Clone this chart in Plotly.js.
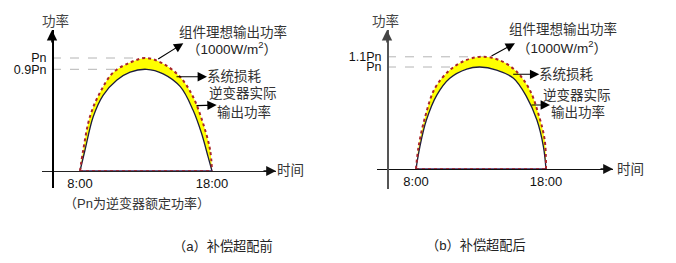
<!DOCTYPE html>
<html>
<head>
<meta charset="utf-8">
<script src="https://cdn.plot.ly/plotly-3.0.1.min.js"></script>
<style>html,body{margin:0;padding:0;background:#fff;}#chart{width:676px;height:263px;}</style>
</head>
<body>
<div id="chart"></div>
<script>
// ---- data ----
// Panel (a): before over-provisioning  (y in units of Pn, x in hours)
const hoursIdealA  = [8, 8.25, 8.75, 9.5, 10.5, 11.8, 13, 14.3, 15.6, 16.55, 17.3, 17.85, 18];
const idealA       = [0, 0.19, 0.48, 0.69, 0.87, 0.96, 1.0, 0.95, 0.83, 0.66, 0.43, 0.19, 0];
const hoursActualA = [8, 8.38, 9.0, 9.75, 10.8, 11.8, 13.05, 14.3, 15.6, 16.56, 17.2, 17.7, 18];
const actualA      = [0, 0.186, 0.48, 0.67, 0.805, 0.875, 0.9, 0.86, 0.746, 0.54, 0.336, 0.127, 0];
// Panel (b): after over-provisioning
const hoursIdealB  = [8, 8.2, 8.7, 9.45, 10.6, 11.9, 13.2, 14.45, 15.75, 16.75, 17.4, 17.9, 18];
const idealB       = [0, 0.22, 0.51, 0.79, 0.97, 1.07, 1.1, 1.065, 0.954, 0.775, 0.546, 0.284, 0];
const hoursActualB = [8, 8.3, 8.8, 9.6, 10.6, 11.9, 12.9, 14.2, 15.5, 16.5, 17.3, 17.8, 18];
const actualB      = [0, 0.22, 0.48, 0.725, 0.89, 0.98, 1.0, 0.97, 0.89, 0.71, 0.48, 0.22, 0];

const xTickVals   = [8, 18];
const xTickText   = ['8:00', '18:00'];
const yTickValsA  = [1, 0.9];
const yTickTextA  = ['Pn', '0.9Pn'];
const yTickValsB  = [1.1, 1];
const yTickTextB  = ['1.1Pn', 'Pn'];

// ---- layout helpers ----
const W = 676, H = 263;
const px = v => v / W;           // pixel -> paper x
const py = v => 1 - v / H;       // pixel -> paper y

const LAT = 'Liberation Sans, Arial, Noto Sans CJK SC, sans-serif';
const CJK = 'Liberation Sans, Noto Sans CJK SC, sans-serif';

const panels = [
  {xa:'x', ya:'y', hi:hoursIdealA, vi:idealA, ha:hoursActualA, va:actualA,
   xdom:[42,276], xr:[5.1212,22.848], xpos:171,
   ydom:[188,30], yr:[-0.15044,1.24779], ypos:52,
   yt:yTickValsA, ytt:yTickTextA, ycol:'#000', xcol:'#222'},
  {xa:'x2', ya:'y2', hi:hoursIdealB, vi:idealB, ha:hoursActualB, va:actualB,
   xdom:[377,613], xr:[5.0,23.1538], xpos:169,
   ydom:[189,30], yr:[-0.19608,1.36275], ypos:387,
   yt:yTickValsB, ytt:yTickTextB, ycol:'#555', xcol:'#111'}
];

const data = [];
const shapes = [];
const layout = {
  width: W, height: H,
  margin: {l:0, r:0, t:0, b:0},
  paper_bgcolor: '#fff', plot_bgcolor: 'rgba(0,0,0,0)',
  showlegend: false,
  annotations: [],
  shapes: shapes
};

panels.forEach((p, i) => {
  const sx = i === 0 ? '' : '2';
  // actual inverter output (inner curve)
  data.push({x:p.ha, y:p.va, xaxis:p.xa, yaxis:p.ya, mode:'lines', type:'scatter',
    line:{color:'#1c1c3c', width:1.3, shape:'spline', smoothing:1}, hoverinfo:'skip'});
  // ideal module output (outer curve), filled down to inner -> system losses
  data.push({x:p.hi, y:p.vi, xaxis:p.xa, yaxis:p.ya, mode:'lines', type:'scatter',
    fill:'tonexty', fillcolor:'#ffff00',
    line:{color:'#a8242a', width:2, dash:'dot', shape:'spline', smoothing:1}, hoverinfo:'skip'});
  // baseline segment between sunrise and sunset
  const h0 = p.hi[0], h1 = p.hi[p.hi.length-1];
  data.push({x:[h0, h1], y:[p.va[0], p.va[p.va.length-1]], xaxis:p.xa, yaxis:p.ya, mode:'lines',
    line:{color:'#3a2a6a', width:1.3}, hoverinfo:'skip'});
  data.push({x:[h0, h1], y:[p.vi[0], p.vi[p.vi.length-1]], xaxis:p.xa, yaxis:p.ya, mode:'lines',
    line:{color:'#a8242a', width:1.6, dash:'dot'}, hoverinfo:'skip'});

  layout['xaxis'+sx] = {
    domain:[px(p.xdom[0]), px(p.xdom[1])], range:p.xr, anchor:'free', position:py(p.xpos),
    showline:true, linecolor:p.xcol, linewidth:1.3, showgrid:false, zeroline:false,
    ticks:'', tickvals:xTickVals, ticktext:xTickText, ticklabelstandoff:0,
    tickfont:{family:LAT, size:13, color:'#111'}, fixedrange:true
  };
  layout['yaxis'+sx] = {
    domain:[py(p.ydom[0]), py(p.ydom[1])], range:p.yr, anchor:'free', position:px(p.ypos),
    showline:true, linecolor:p.ycol, linewidth:1.6, showgrid:false, zeroline:false,
    ticks:'', tickvals:p.yt, ticktext:p.ytt, ticklabelstandoff:3,
    tickfont:{family:LAT, size:12.5, color:'#111'}, fixedrange:true
  };

  // dashed reference levels from the y axis to the peak time
  const axisHour = p.xr[0] + (p.ypos - p.xdom[0]) / (p.xdom[1]-p.xdom[0]) * (p.xr[1]-p.xr[0]);
  const peakIdx = p.vi.indexOf(Math.max(...p.vi));
  const peakIdxA = p.va.indexOf(Math.max(...p.va));
  shapes.push({type:'line', xref:p.xa, yref:p.ya, layer:'below',
    x0:axisHour, x1:p.hi[peakIdx], y0:p.yt[0], y1:p.yt[0],
    line:{color:'#b4b4b4', width:1, dash:'dash'}});
  shapes.push({type:'line', xref:p.xa, yref:p.ya, layer:'below',
    x0:axisHour, x1:p.ha[peakIdxA], y0:p.yt[1], y1:p.yt[1],
    line:{color:'#b4b4b4', width:1, dash:'dash'}});
});

const ann = layout.annotations;
function arrow(hx, hy, tx, ty, w, s, col) {
  ann.push({xref:'paper', yref:'paper', x:px(hx), y:py(hy), ax:tx-hx, ay:ty-hy,
    axref:'pixel', ayref:'pixel', text:'', showarrow:true, arrowhead:2,
    arrowwidth:w, arrowsize:s, arrowcolor:col || '#000', standoff:0});
}
function label(txt, cx, cy, size, col, fam) {
  ann.push({xref:'paper', yref:'paper', x:px(cx), y:py(cy), xanchor:'center', yanchor:'middle',
    text:txt, showarrow:false, font:{family:fam || CJK, size:size, color:col || '#333'}});
}

// axis arrows
arrow(52, 30, 52, 44, 1.6, 1.3, '#000');
arrow(276, 171, 262, 171, 1.4, 1.4, '#111');
arrow(387, 30, 387, 44, 1.6, 1.3, '#444');
arrow(613, 169, 599, 169, 1.4, 1.4, '#111');

// pointer arrows panel (a)
arrow(183.3, 43.3, 156.7, 60, 1.1, 1.7);
arrow(207, 76.7, 175, 76.7, 1.1, 1.7);
arrow(216.7, 105, 195, 105.7, 1.1, 1.7);
// pointer arrows panel (b)
arrow(515, 43.3, 490, 56.7, 1.1, 1.7);
arrow(539.3, 74.3, 511.7, 74.3, 1.1, 1.7);
arrow(550, 105, 530, 105, 1.1, 1.7);

// texts panel (a)
label('功率', 55, 21, 13.5, '#444');
label('组件理想输出功率', 232.5, 31.7, 13.5);
label('（1000W/m<sup>2</sup>）', 231.7, 48.3, 13.5, '#222');
label('系统损耗', 234.2, 76.7, 13.5);
label('逆变器实际', 243.3, 94, 13.5);
label('输出功率', 244.2, 111.7, 13.5);
label('时间', 290, 170, 13.5);
label('（Pn为逆变器额定功率）', 136.5, 203, 13, '#333');
label('（a）补偿超配前', 223.3, 245.7, 13.2, '#222');
// texts panel (b)
label('功率', 385, 21, 13.5, '#444');
label('组件理想输出功率', 563.3, 29, 13.5);
label('（1000W/m<sup>2</sup>）', 561.7, 46.7, 13.5, '#222');
label('系统损耗', 566.7, 74.3, 13.5);
label('逆变器实际', 576.7, 95, 13.5);
label('输出功率', 577.5, 111.7, 13.5);
label('时间', 630, 169, 13.5);
label('（b）补偿超配后', 475.8, 245.7, 13.2, '#222');

Plotly.newPlot('chart', data, layout, {staticPlot:true, displayModeBar:false});
</script>
</body>
</html>
